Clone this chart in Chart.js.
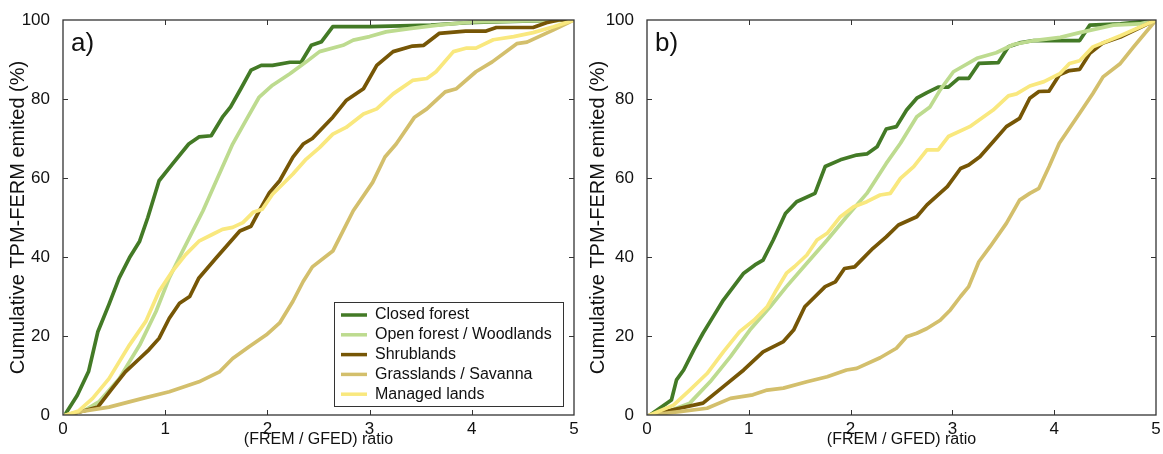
<!DOCTYPE html>
<html>
<head>
<meta charset="utf-8">
<script src="https://cdn.jsdelivr.net/npm/chart.js@4/dist/chart.umd.min.js"></script>
<style>
  body { margin: 0; background: #fff; }
  #wrap { position: relative; width: 1163px; height: 454px; }
  canvas { position: absolute; top: 0; }
  #graficaA { left: 0; }
  #graficaB { left: 580px; }
</style>
</head>
<body>
<div id="wrap">
  <canvas id="graficaA" width="580" height="454"></canvas>
  <canvas id="graficaB" width="583" height="454"></canvas>
</div>
<script>
// categorias (tipos de cobertura)
const categorias = ['Closed forest', 'Open forest / Woodlands', 'Shrublands', 'Grasslands / Savanna', 'Managed lands'];
const colores = ['#437a26', '#bddb8f', '#765606', '#d3bf6c', '#f9e87e'];

// panel a) pares [ratio, % acumulado]
const cerradoA = [[0.03,0.5],[0.14,5],[0.25,11],[0.34,21],[0.45,28],[0.55,34.7],[0.65,39.8],[0.75,44],[0.83,50],[0.94,59.3],[1.07,63.5],[1.23,68.6],[1.33,70.4],[1.45,70.7],[1.56,75.4],[1.64,78],[1.74,82.6],[1.84,87.3],[1.94,88.5],[2.05,88.5],[2.22,89.3],[2.33,89.3],[2.43,93.6],[2.53,94.5],[2.64,98.3],[3.0,98.3],[3.6,98.7],[3.95,99.3],[4.2,99.5],[5,100]];
const abiertoA = [[0.03,0],[0.2,1],[0.35,3.3],[0.55,9.2],[0.75,17.7],[0.91,26.2],[1.04,34.7],[1.17,41.5],[1.37,51.7],[1.5,59.3],[1.66,68.6],[1.79,74.6],[1.92,80.5],[2.05,83.5],[2.22,86.4],[2.38,89.4],[2.51,92],[2.74,93.6],[2.84,94.9],[3.0,95.8],[3.16,97],[3.39,97.8],[3.67,98.7],[4.0,99.5],[5,100]];
const arbustosA = [[0.03,0],[0.2,1],[0.34,2],[0.48,6.7],[0.61,10.9],[0.75,14.3],[0.84,16.5],[0.94,19.4],[1.04,24.5],[1.14,28.3],[1.24,30],[1.33,34.7],[1.5,39.8],[1.73,46.6],[1.84,47.8],[1.92,51.7],[2.02,56.3],[2.12,59.3],[2.25,65.3],[2.35,68.6],[2.44,70],[2.64,75.4],[2.77,79.6],[2.94,82.6],[3.07,88.5],[3.23,92],[3.42,93.4],[3.53,93.6],[3.68,96.6],[3.94,97.2],[4.14,97.2],[4.24,98.1],[4.6,98.1],[4.73,99.3],[4.85,100],[5,100]];
const pastizalA = [[0.03,0],[0.2,1],[0.45,2],[0.78,4.2],[1.04,5.9],[1.33,8.4],[1.53,10.9],[1.66,14.3],[1.82,17.3],[1.99,20.3],[2.12,23.3],[2.25,28.8],[2.35,33.8],[2.44,37.5],[2.64,41.5],[2.84,51.7],[3.03,58.9],[3.15,65.3],[3.26,68.6],[3.44,75.4],[3.56,77.5],[3.74,81.8],[3.85,82.6],[4.04,86.9],[4.2,89.4],[4.44,94],[4.54,94.4],[4.8,97.5],[5,100]];
const manejadoA = [[0.03,0],[0.15,1],[0.29,4.2],[0.45,9.2],[0.65,17.7],[0.81,23.7],[0.94,31.3],[1.07,36.4],[1.2,40.6],[1.33,44],[1.46,45.7],[1.56,47],[1.66,47.5],[1.76,48.7],[1.86,51.3],[1.95,52.1],[2.05,55.9],[2.25,61],[2.38,64.8],[2.51,67.7],[2.64,71.1],[2.77,72.8],[2.94,76.2],[3.07,77.5],[3.23,81.3],[3.42,84.7],[3.56,85.2],[3.65,86.9],[3.82,92],[3.95,92.9],[4.04,92.9],[4.21,95],[4.41,95.8],[4.6,96.8],[4.8,98.3],[5,100]];

// panel b)
const cerradoB = [[0.03,0],[0.24,3.8],[0.29,8.9],[0.36,11.4],[0.46,16.5],[0.55,20.7],[0.65,24.9],[0.75,29.1],[0.85,32.5],[0.95,35.9],[1.06,38],[1.14,39.2],[1.24,44.3],[1.36,51],[1.47,54],[1.65,56.1],[1.75,62.9],[1.9,64.6],[2.06,65.8],[2.16,66.1],[2.26,67.9],[2.35,72.4],[2.45,73],[2.55,77.2],[2.65,80.2],[2.75,81.6],[2.86,83],[2.96,83],[3.06,85.2],[3.16,85.2],[3.26,89],[3.45,89.2],[3.55,93.2],[3.66,94.2],[3.8,94.8],[4.25,94.8],[4.35,98.7],[4.65,99],[5,100]];
const abiertoB = [[0.03,0],[0.2,0.8],[0.42,3],[0.62,8.4],[0.82,14.8],[1.01,21.5],[1.21,27.4],[1.37,32.5],[1.57,38.4],[1.77,44.3],[1.96,50.2],[2.16,56.1],[2.35,63.7],[2.49,68.8],[2.65,75.5],[2.78,78],[2.88,82.3],[3.01,86.9],[3.24,90.3],[3.43,91.7],[3.6,93.8],[3.8,94.8],[4.06,95.6],[4.25,96.8],[4.58,98.7],[4.84,99],[5,100]];
const arbustosB = [[0.03,0],[0.32,1.7],[0.55,3],[0.75,7.2],[0.95,11.4],[1.14,16],[1.34,18.6],[1.44,21.5],[1.55,27.4],[1.75,32.5],[1.85,33.7],[1.94,37.1],[2.04,37.5],[2.22,42.2],[2.35,45.1],[2.47,48.1],[2.65,50.2],[2.75,53.2],[2.95,57.8],[3.08,62.4],[3.16,63.3],[3.27,65.4],[3.4,69.2],[3.53,73],[3.66,75.1],[3.76,80.2],[3.85,81.9],[3.95,82],[4.05,86.1],[4.15,87.2],[4.25,87.5],[4.35,91.6],[4.48,94.2],[4.65,95.7],[5,100]];
const pastizalB = [[0.03,0],[0.3,0.8],[0.59,1.7],[0.82,4.2],[1.04,5.1],[1.18,6.3],[1.34,6.8],[1.57,8.4],[1.77,9.7],[1.96,11.4],[2.06,11.8],[2.29,14.5],[2.45,16.9],[2.55,19.8],[2.65,20.7],[2.75,21.9],[2.88,24],[2.98,26.6],[3.08,30],[3.16,32.5],[3.26,38.8],[3.37,42.6],[3.53,48.5],[3.66,54.4],[3.76,56.1],[3.85,57.4],[3.95,62.9],[4.05,68.8],[4.15,72.6],[4.25,76.4],[4.38,81.4],[4.48,85.6],[4.65,89],[4.78,93.2],[5,100]];
const manejadoB = [[0.03,0],[0.26,2.5],[0.42,6.3],[0.59,10.5],[0.75,16],[0.91,21.1],[1.05,24],[1.18,27.4],[1.27,31.6],[1.37,35.9],[1.45,37.6],[1.57,40.5],[1.67,44.3],[1.77,46],[1.9,50.2],[2.03,52.7],[2.16,54],[2.29,55.7],[2.39,56.1],[2.49,59.9],[2.62,62.9],[2.75,67.1],[2.86,67.1],[2.96,70.5],[3.17,73],[3.4,77.2],[3.55,80.8],[3.63,81.3],[3.76,83.3],[3.9,84.4],[4.06,86.5],[4.15,89],[4.25,89.7],[4.38,93.2],[4.65,96],[5,100]];

const ticksX = [0, 1, 2, 3, 4, 5];
const ticksY = [0, 20, 40, 60, 80, 100];

const fuente = "'Liberation Sans', Arial, sans-serif";

// marco, marcas hacia adentro, etiqueta del panel y leyenda
const marcoPlugin = {
    id: 'marco',
    afterDraw(chart, args, opts) {
        const ctx = chart.ctx;
        const a = chart.chartArea;
        const sx = chart.scales.x, sy = chart.scales.y;
        ctx.save();
        ctx.strokeStyle = '#333';
        ctx.lineWidth = 1.3;
        ctx.strokeRect(a.left, a.top, a.right - a.left, a.bottom - a.top);
        ctx.lineWidth = 1;
        ctx.beginPath();
        ticksX.slice(1, -1).forEach(v => {
            const px = Math.round(sx.getPixelForValue(v)) + 0.5;
            ctx.moveTo(px, a.bottom); ctx.lineTo(px, a.bottom - 5);
            ctx.moveTo(px, a.top); ctx.lineTo(px, a.top + 5);
        });
        ticksY.slice(1, -1).forEach(v => {
            const py = Math.round(sy.getPixelForValue(v)) + 0.5;
            ctx.moveTo(a.left, py); ctx.lineTo(a.left + 5, py);
            ctx.moveTo(a.right, py); ctx.lineTo(a.right - 5, py);
        });
        ctx.stroke();

        ctx.fillStyle = '#111';
        ctx.font = '26px ' + fuente;
        ctx.textBaseline = 'alphabetic';
        ctx.fillText(opts.etiqueta, a.left + 8, a.top + 31);

        if (opts.leyenda) {
            const x0 = a.left + 271, y0 = a.top + 282, w = 229, h = 104;
            ctx.fillStyle = '#fff';
            ctx.fillRect(x0, y0, w, h);
            ctx.strokeStyle = '#333';
            ctx.lineWidth = 1;
            ctx.strokeRect(x0 + 0.5, y0 + 0.5, w, h);
            ctx.font = '16px ' + fuente;
            ctx.textBaseline = 'middle';
            categorias.forEach((c, i) => {
                const yy = y0 + 13 + i * 19.8;
                ctx.strokeStyle = colores[i];
                ctx.lineWidth = 3.5;
                ctx.beginPath();
                ctx.moveTo(x0 + 7, yy); ctx.lineTo(x0 + 33, yy);
                ctx.stroke();
                ctx.fillStyle = '#111';
                ctx.fillText(c, x0 + 41, yy);
            });
        }
        ctx.restore();
    }
};

const crearGrafica = (id, series, etiqueta, leyenda, izq, der) => {
    const ctx = document.getElementById(id).getContext('2d');
    return new Chart(ctx, {
        type: 'line',
        data: {
            datasets: series.map((s, i) => ({
                label: categorias[i],
                data: s.map(p => ({ x: p[0], y: p[1] })),
                borderColor: colores[i],
                borderWidth: 3.7,
                borderJoinStyle: 'round',
                borderCapStyle: 'round',
                pointRadius: 0,
                tension: 0,
                fill: false,
                order: series.length - i
            }))
        },
        options: {
            responsive: false,
            animation: false,
            layout: { padding: { left: 5, right: der, top: 20, bottom: 0 } },
            plugins: {
                legend: { display: false },
                tooltip: { enabled: false },
                marco: { etiqueta: etiqueta, leyenda: leyenda }
            },
            scales: {
                x: {
                    type: 'linear',
                    min: 0, max: 5,
                    grid: { display: false },
                    border: { display: false },
                    afterBuildTicks: axis => { axis.ticks = ticksX.map(v => ({ value: v })); },
                    afterFit: axis => { axis.height = 39; },
                    ticks: { color: '#111', padding: -4, font: { family: fuente, size: 17 } },
                    title: {
                        display: true,
                        text: '(FREM / GFED) ratio',
                        color: '#111',
                        padding: { top: 0, bottom: 5 },
                        font: { family: fuente, size: 16 }
                    }
                },
                y: {
                    min: 0, max: 100,
                    grid: { display: false },
                    border: { display: false },
                    afterBuildTicks: axis => { axis.ticks = ticksY.map(v => ({ value: v })); },
                    afterFit: axis => { axis.width = izq - 5; },
                    ticks: { color: '#111', padding: 5, font: { family: fuente, size: 17 } },
                    title: {
                        display: true,
                        text: 'Cumulative TPM-FERM emited (%)',
                        color: '#111',
                        padding: { top: 1, bottom: 0 },
                        font: { family: fuente, size: 20 }
                    }
                }
            }
        },
        plugins: [marcoPlugin]
    });
};

document.addEventListener('DOMContentLoaded', () => {
    crearGrafica('graficaA', [cerradoA, abiertoA, arbustosA, pastizalA, manejadoA], 'a)', true, 63, 6);
    crearGrafica('graficaB', [cerradoB, abiertoB, arbustosB, pastizalB, manejadoB], 'b)', false, 67, 7);
});
</script>
</body>
</html>
